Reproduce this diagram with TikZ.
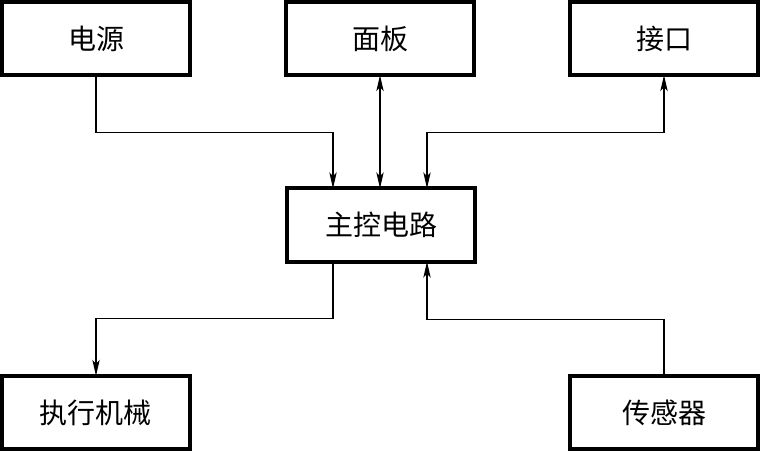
\documentclass[tikz,border=0pt]{standalone}
\usepackage{fontspec}
\newfontfamily\cjk{Noto Sans CJK SC}
\usetikzlibrary{arrows.meta}

\begin{document}
\begin{tikzpicture}[x=0.75pt, y=-0.75pt,
    blk/.style={draw, line width=2.8pt, minimum width=141pt, minimum height=55pt,
        inner sep=0pt, outer sep=0pt, font=\cjk\fontsize{21}{24}\selectfont},
    arr/.style={line width=0.9pt, -{Stealth[length=12pt, width=5.5pt, inset=3pt]}},
    darr/.style={line width=0.9pt, {Stealth[length=12pt, width=5.5pt, inset=3pt]}-{Stealth[length=12pt, width=5.5pt, inset=3pt]}}]
    \useasboundingbox (0, 0) rectangle (761, 451);

    % Top row
    \node[blk] (dy) at (96, 38.5) {电源};
    \node[blk] (mb) at (380, 38.5) {面板};
    \node[blk] (jk) at (664, 38.5) {接口};

    % Middle
    \node[blk] (zk) at (381, 225) {主控电路};

    % Bottom row
    \node[blk] (zx) at (96, 412.5) {执行机械};
    \node[blk] (cg) at (664, 412.5) {传感器};

    % Connections
    \draw[arr] (dy.south) -- ++(0, 57) -| ([xshift=-36pt]zk.north);
    \draw[darr] (mb.south) -- (mb.south |- zk.north);
    \draw[darr] (jk.south) -- ++(0, 57) -| ([xshift=34.5pt]zk.north);
    \draw[arr] ([xshift=-36pt]zk.south) -- ++(0, 57) -| (zx.north);
    \draw[arr] (cg.north) -- ++(0, -56) -| ([xshift=34.5pt]zk.south);
\end{tikzpicture}
\end{document}
